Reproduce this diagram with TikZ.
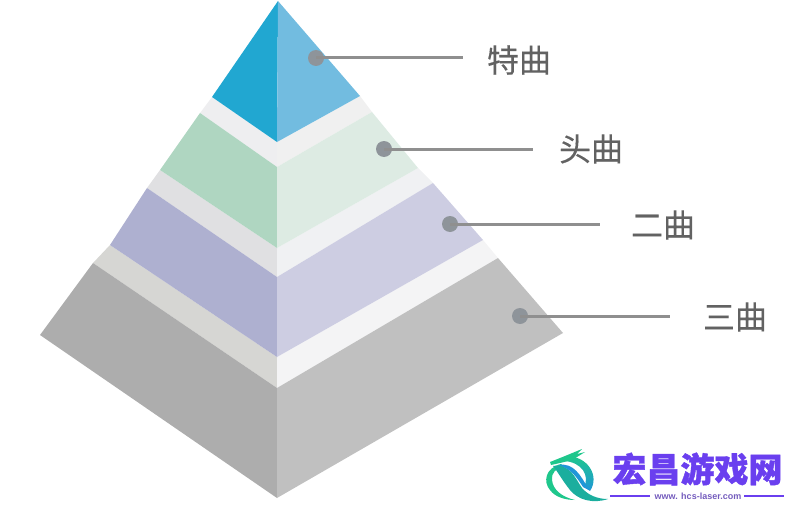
\documentclass[tikz,border=0pt]{standalone}
\usepackage{fontspec}
\newfontfamily\cjk[FakeBold=0.35]{Noto Sans CJK SC}
\newfontfamily\cjkb[BoldFeatures={FakeBold=1.2}]{Noto Sans CJK SC}
\setmainfont{Liberation Sans}
\definecolor{lab}{HTML}{626262}
\definecolor{ln}{HTML}{8F8F8F}
\definecolor{dotc}{HTML}{8E949A}
\definecolor{pur}{HTML}{6A3FEF}
\definecolor{logog}{HTML}{1FC78C}
\definecolor{logot}{HTML}{1BAE9E}
\definecolor{logob}{HTML}{1F96D8}
\tikzset{
 face/.style={draw=none},
 dotn/.style={circle,fill=dotc,draw=none,minimum size=16pt,inner sep=0pt},
 lead/.style={draw=ln,line width=3pt},
 lab/.style={font=\cjk\fontsize{32}{32}\selectfont,text=lab,inner sep=0pt},
}
\begin{document}
\begin{tikzpicture}[x=1pt,y=-1pt]
\useasboundingbox (0,0) rectangle (794,508);
% bands
\fill[face,fill={rgb,255:red,224;green,224;blue,226}] (147,188)--(160,170)--(277,248)--(277,277)--cycle;
\fill[face,fill={rgb,255:red,214;green,214;blue,211}] (110,245)--(93,263)--(277,388)--(277,357)--cycle;
\fill[face,fill={rgb,255:red,238;green,238;blue,240}] (212,97)--(200,113)--(277,167)--(277,142)--cycle;
\fill[face,fill={rgb,255:red,240;green,240;blue,240}] (360,96)--(372,112)--(277,167)--(277,142)--cycle;
\fill[face,fill={rgb,255:red,240;green,241;blue,243}] (418,168)--(433,183)--(277,277)--(277,248)--cycle;
\fill[face,fill={rgb,255:red,244;green,244;blue,245}] (483,240)--(498,258)--(277,388)--(277,357)--cycle;
% faces
\fill[face,fill={rgb,255:red,33;green,167;blue,209}] (278,1)--(212,97)--(277,142)--cycle;
\fill[face,fill={rgb,255:red,114;green,188;blue,224}] (278,1)--(360,96)--(277,142)--cycle;
\fill[face,fill={rgb,255:red,175;green,214;blue,193}] (200,113)--(160,170)--(277,248)--(277,167)--cycle;
\fill[face,fill={rgb,255:red,221;green,235;blue,227}] (372,112)--(418,168)--(277,248)--(277,167)--cycle;
\fill[face,fill={rgb,255:red,174;green,176;blue,208}] (147,188)--(110,245)--(277,357)--(277,277)--cycle;
\fill[face,fill={rgb,255:red,205;green,205;blue,226}] (433,183)--(483,240)--(277,357)--(277,277)--cycle;
\fill[face,fill={rgb,255:red,173;green,173;blue,173}] (93,263)--(40,335)--(277,498)--(277,388)--cycle;
\fill[face,fill={rgb,255:red,192;green,192;blue,192}] (498,258)--(563,333)--(277,498)--(277,388)--cycle;
% leaders
\node[dotn] (d1) at (316,58) {};
\node[dotn] (d2) at (384,149) {};
\node[dotn] (d3) at (450,224) {};
\node[dotn] (d4) at (520,316) {};
\coordinate (e1) at (463,58);
\coordinate (e2) at (533,149);
\coordinate (e3) at (600,224);
\coordinate (e4) at (670,316);
\draw[lead] (d1.center)--(e1);
\draw[lead] (d2.center)--(e2);
\draw[lead] (d3.center)--(e3);
\draw[lead] (d4.center)--(e4);
\node[lab] (t1) at (519,60) {特曲};
\node[lab] (t2) at (591,149) {头曲};
\node[lab] (t3) at (663,225) {二曲};
\node[lab] (t4) at (735,317) {三曲};
% logo: right arc of the body
\shade[top color=logog,bottom color=logob] (566,456) ..controls (588,456) and (600,476) .. (590,491)
  -- (584,487) ..controls (590,476) and (582,462) .. (564,461) --cycle;
% logo: left loop
\fill[logog] (561,464) ..controls (545,468) and (543,482) .. (550,490)
  ..controls (555,497) and (565,500) .. (575,500)
  ..controls (562,497) and (553,490) .. (552,480)
  ..controls (551,473) and (556,468) .. (564,467) --cycle;
% logo: ribbon
\fill[logot] (553,466) ..controls (570,463) and (575,478) .. (582,488)
  ..controls (588,495) and (597,499) .. (608,499)
  ..controls (593,504) and (578,500) .. (570,490)
  ..controls (562,480) and (558,472) .. (553,466) --cycle;
\fill[logob] (558,465) ..controls (574,462) and (581,476) .. (589,490)
  -- (583,487) ..controls (576,476) and (570,468) .. (558,465) --cycle;
% logo: head
\fill[logog] (550,462) -- (565,456) -- (582,449) -- (577,454) -- (585,452) -- (577,457)
  -- (572,460) -- (560,463) -- (551,465) --cycle;
\node[font=\cjkb\bfseries\fontsize{34}{34}\selectfont,text=pur,inner sep=0pt] (brand) at (697.5,469) {宏昌游戏网};
\node[font=\fontsize{9}{9}\selectfont\bfseries,text=pur!55!gray,inner sep=0pt] (url) at (698,496) {www. hcs-laser.com};
\coordinate (la) at (610,496); \coordinate (lb) at (650,496);
\coordinate (lc) at (744,496); \coordinate (ld) at (784,496);
\draw[pur,line width=1.5pt] (la)--(lb);
\draw[pur,line width=1.5pt] (lc)--(ld);
\end{tikzpicture}
\end{document}
